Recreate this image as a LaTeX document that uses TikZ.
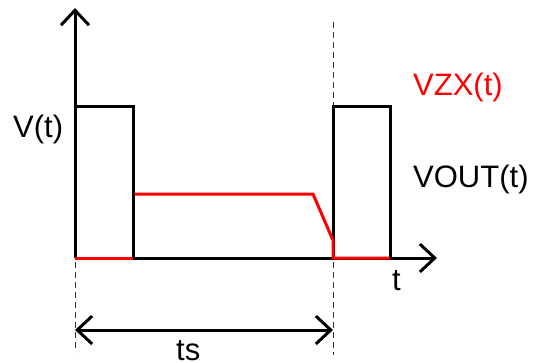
\documentclass[tikz,border=0pt]{standalone}
\usepackage{fontspec}
\setmainfont{Liberation Sans}
\usetikzlibrary{arrows.meta}
\begin{document}
\begin{tikzpicture}[x=1pt,y=-1pt,
  wave/.style={line width=3pt},
  redwave/.style={line width=3pt,red,line join=miter},
  axis/.style={line width=3pt,-{Straight Barb[length=15pt,width=28pt,line width=3pt]}},
  dim/.style={line width=3pt,{Straight Barb[length=15pt,width=28pt,line width=3pt]}-{Straight Barb[length=15pt,width=28pt,line width=3pt]}},
  guide/.style={line width=1pt,black!80,dash pattern=on 6pt off 4pt},
  lbl/.style={inner sep=0pt,anchor=base west,font=\fontsize{31}{37}\selectfont}]
\useasboundingbox (0,0) rectangle (533,362);
% coordinates
\coordinate (o) at (75,258);
\coordinate (ytip) at (75,8);
\coordinate (xtip) at (437,258);
% guides
\draw[guide] (75,262) -- (75,352);
\draw[guide] (333,22) -- (333,355);
% axes
\draw[axis] (o) -- (ytip);
\draw[axis] (o) -- (xtip);
% pulses
\draw[wave,line join=miter] (75,106) -- (133,106) -- (133,258);
\draw[wave,line join=miter] (333,258) -- (333,106) -- (390,106) -- (390,258);
% red waveform
\draw[redwave] (75,258) -- (133,258);
\draw[redwave] (134.5,194) -- (313,194) -- (332,238) -- (333,240) -- (333,258) -- (390,258);
% ts dimension
\coordinate (tsl) at (75,330);
\coordinate (tsr) at (333,330);
\draw[dim] (tsl) -- (tsr);
% labels
\node[lbl] (vt) at (13,137) {V(t)};
\node[lbl,text=red] (vzx) at (413,95) {VZX(t)};
\node[lbl] (vout) at (413,187) {VOUT(t)};
\node[lbl] (t) at (392,290) {t};
\node[lbl] (ts) at (176,360) {ts};
\end{tikzpicture}
\end{document}
